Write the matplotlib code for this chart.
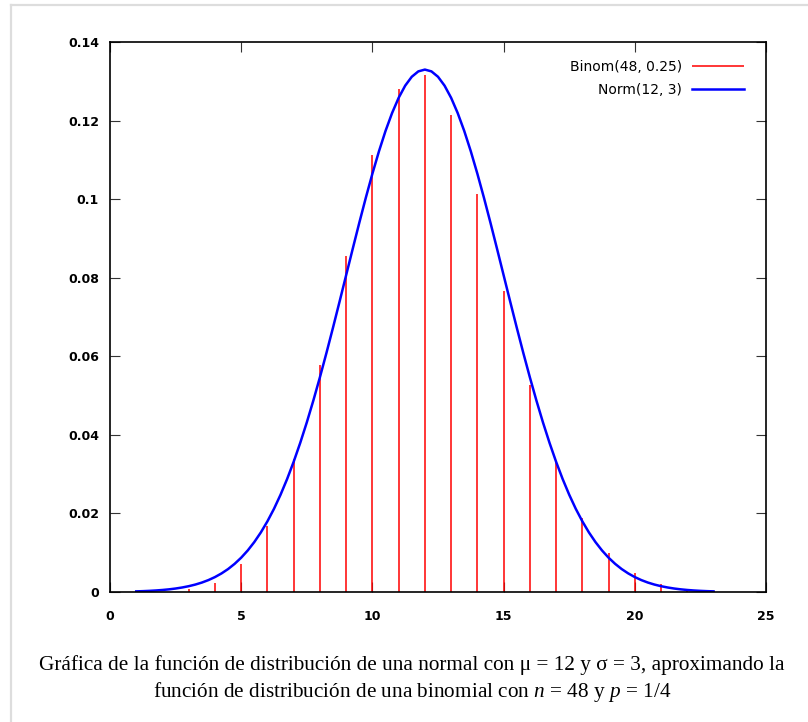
import matplotlib
matplotlib.use("Agg")
import matplotlib.pyplot as plt
from matplotlib.lines import Line2D

# Binom(48, 0.25): altura de cada impulso
k = list(range(1, 24))
binom = [0.000016, 0.000126, 0.00064, 0.00241, 0.00707, 0.0169, 0.0338,
         0.0577, 0.0855, 0.1112, 0.1280, 0.1316, 0.1215, 0.1012, 0.0765,
         0.0526, 0.0330, 0.0189, 0.0100, 0.0048, 0.00214, 0.00088, 0.00033]

# Norm(12, 3): curva leida cada 0.25 desde x=1 hasta x=23 (simetrica en 12)
xn = [1 + 0.25 * i for i in range(89)]
half = [0.000160, 0.000216, 0.000291, 0.000388, 0.000514, 0.000676, 0.000884,
        0.00115, 0.00148, 0.00189, 0.00240, 0.00303, 0.00380, 0.00473,
        0.00584, 0.00717, 0.00874, 0.01058, 0.01272, 0.01518, 0.01800,
        0.02118, 0.02477, 0.02876, 0.03316, 0.03797, 0.04317, 0.04875,
        0.05467, 0.06088, 0.06733, 0.07395, 0.08066, 0.08736, 0.09397,
        0.10038, 0.10648, 0.11218, 0.11736, 0.12192, 0.12579, 0.12889,
        0.13115, 0.13252]
norm = half + [0.13298] + half[::-1]

xticks = [0, 5, 10, 15, 20, 25]
yticks = [0, 0.02, 0.04, 0.06, 0.08, 0.1, 0.12, 0.14]
ylabels = ["0", "0.02", "0.04", "0.06", "0.08", "0.1", "0.12", "0.14"]

caption = ("Gráfica de la función de distribución de una normal con μ = 12 y σ = 3, aproximando la\n"
           "función de distribución de una binomial con $n$ = 48 y $p$ = 1/4")

plt.rcParams["mathtext.fontset"] = "custom"
plt.rcParams["mathtext.it"] = "Liberation Serif:italic"
plt.rcParams["mathtext.rm"] = "Liberation Serif"

fig = plt.figure(figsize=(8.08, 7.22), dpi=100)
ax = fig.add_axes([110/808, 130/722, 656/808, 550/722])

ax.vlines(k, 0, binom, color="#ff0000", lw=1.1, label="Binom(48, 0.25)")
ax.plot(xn, norm, color="#0000ff", lw=1.8, label="Norm(12, 3)")

ax.set_xlim(0, 25); ax.set_ylim(0, 0.14)
ax.set_xticks(xticks); ax.set_yticks(yticks)
ax.set_yticklabels(ylabels)
ax.tick_params(direction="in", length=7, width=0.8, color="#333333",
               top=True, right=True, labelsize=9)
ax.tick_params(axis="y", pad=8)
ax.tick_params(axis="x", pad=13)
for t in ax.get_xticklabels() + ax.get_yticklabels():
    t.set_fontweight("bold")
for s in ax.spines.values():
    s.set_linewidth(1.2)

leg = ax.legend(loc="upper right", frameon=False, markerfirst=False, fontsize=10,
                handlelength=3.8, handletextpad=0.7, labelspacing=0.65,
                bbox_to_anchor=(0.986, 0.99))

fig.text(412/808, 42.5/722, caption, ha="center", va="center", fontsize=15.3,
         family="Liberation Serif", linespacing=1.26)

# marco gris claro (arriba e izquierda)
fig.add_artist(Line2D([11/808, 1], [717/722, 717/722], color="#dddddd", lw=1.6))
fig.add_artist(Line2D([11/808, 11/808], [0, 717/722], color="#dddddd", lw=1.6))

fig.savefig("out.png", dpi=100)
